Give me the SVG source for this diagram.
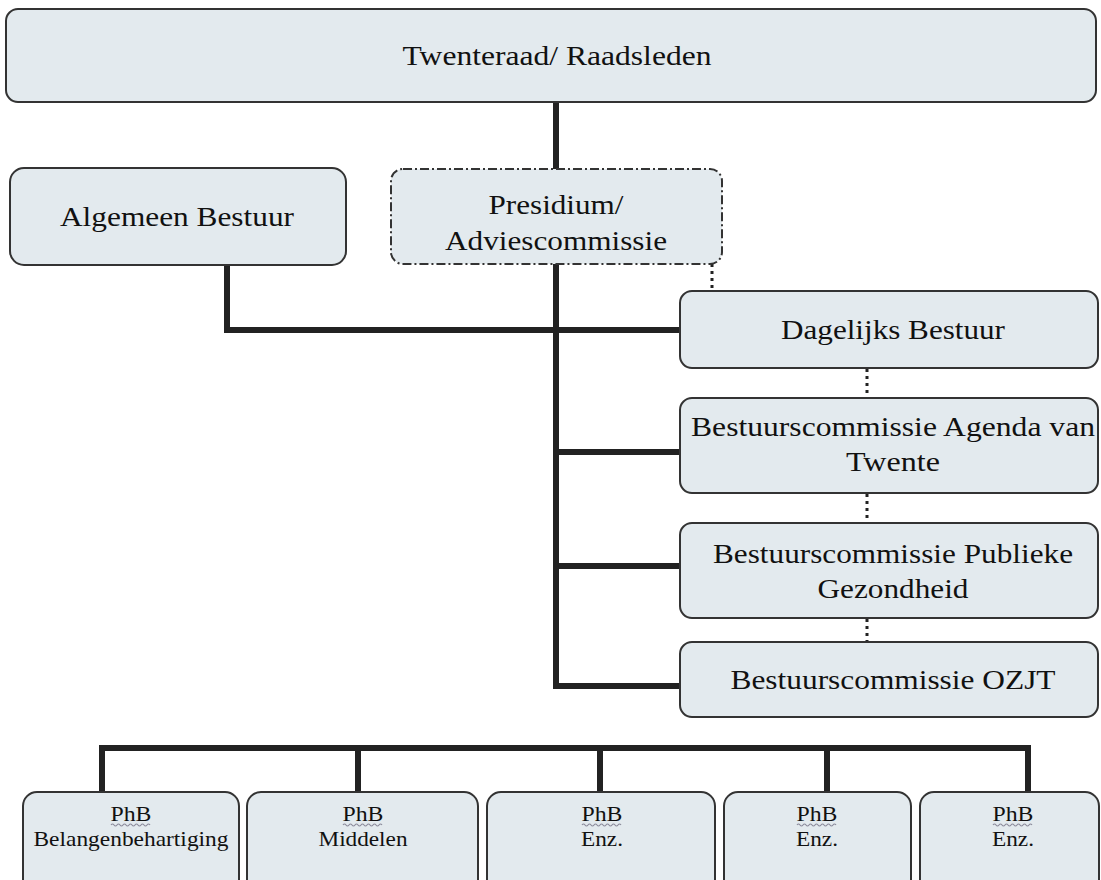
<svg xmlns="http://www.w3.org/2000/svg" width="1101" height="880" viewBox="0 0 1101 880">
<style>
.box{fill:#e3eaee;stroke:#333;stroke-width:2}
.dash{fill:#e3eaee;stroke:#333;stroke-width:2;stroke-dasharray:9 3 2 3}
.con{fill:none;stroke:#222;stroke-width:6;stroke-linejoin:miter;stroke-linecap:butt}
.dot{fill:none;stroke:#222;stroke-width:3;stroke-dasharray:3 4}
.t{font-family:"Liberation Serif","Times New Roman",serif;font-size:27px;fill:#111;text-anchor:middle}
.s{font-family:"Liberation Serif","Times New Roman",serif;font-size:22px;fill:#111;text-anchor:middle}
.sq{fill:none;stroke:#8c8c9c;stroke-width:1.2}
</style>
<rect width="1101" height="880" fill="#ffffff"/>
<g id="connectors">
<path class="con" d="M556 102 V689"/>
<path class="con" d="M227 265 V330 H680"/>
<path class="con" d="M556 452 H680"/>
<path class="con" d="M556 566 H680"/>
<path class="con" d="M556 686 H680"/>
<path class="con" d="M102 792 V748 H1028 V792"/>
<path class="con" d="M358 748 V792"/>
<path class="con" d="M600 748 V792"/>
<path class="con" d="M827 748 V792"/>
<path class="dot" d="M712 264 V291"/>
<path class="dot" d="M867 369 V398"/>
<path class="dot" d="M867 494 V523"/>
<path class="dot" d="M867 619 V642"/>
</g>
<g id="twenteraad">
<rect class="box" x="6" y="9" width="1090" height="93" rx="12"/>
<text class="t" x="557" y="65" textLength="309" lengthAdjust="spacingAndGlyphs">Twenteraad/ Raadsleden</text>
</g>
<g id="algemeen-bestuur">
<rect class="box" x="10" y="168" width="336" height="97" rx="14"/>
<text class="t" x="177" y="226" textLength="234" lengthAdjust="spacingAndGlyphs">Algemeen Bestuur</text>
</g>
<g id="presidium">
<rect class="dash" x="391" y="169" width="331" height="95" rx="12"/>
<text class="t" x="556" y="214" textLength="135" lengthAdjust="spacingAndGlyphs">Presidium/</text>
<text class="t" x="556" y="250" textLength="222" lengthAdjust="spacingAndGlyphs">Adviescommissie</text>
</g>
<g id="dagelijks-bestuur">
<rect class="box" x="680" y="291" width="418" height="77" rx="12"/>
<text class="t" x="893" y="339" textLength="224" lengthAdjust="spacingAndGlyphs">Dagelijks Bestuur</text>
</g>
<g id="bc-agenda">
<rect class="box" x="680" y="398" width="418" height="95" rx="12"/>
<text class="t" x="893" y="436" textLength="404" lengthAdjust="spacingAndGlyphs">Bestuurscommissie Agenda van</text>
<text class="t" x="893" y="471" textLength="94" lengthAdjust="spacingAndGlyphs">Twente</text>
</g>
<g id="bc-publieke">
<rect class="box" x="680" y="523" width="418" height="95" rx="12"/>
<text class="t" x="893" y="563" textLength="360" lengthAdjust="spacingAndGlyphs">Bestuurscommissie Publieke</text>
<text class="t" x="893" y="598" textLength="151" lengthAdjust="spacingAndGlyphs">Gezondheid</text>
</g>
<g id="bc-ozjt">
<rect class="box" x="680" y="642" width="418" height="75" rx="12"/>
<text class="t" x="893" y="689" textLength="325" lengthAdjust="spacingAndGlyphs">Bestuurscommissie OZJT</text>
</g>
<g id="phb-belangenbehartiging">
<rect class="box" x="23" y="792" width="216" height="120" rx="14"/>
<text class="s" x="131" y="821" textLength="41" lengthAdjust="spacingAndGlyphs">PhB</text>
<path class="sq" d="M111 825 q1.5 -2 3 0 t3 0 t3 0 t3 0 t3 0 t3 0 t3 0 t3 0 t3 0 t3 0 t3 0 t3 0 t3 0"/>
<text class="s" x="131" y="846" textLength="195" lengthAdjust="spacingAndGlyphs">Belangenbehartiging</text>
</g>
<g id="phb-middelen">
<rect class="box" x="247" y="792" width="231" height="120" rx="14"/>
<text class="s" x="363" y="821" textLength="41" lengthAdjust="spacingAndGlyphs">PhB</text>
<path class="sq" d="M343 825 q1.5 -2 3 0 t3 0 t3 0 t3 0 t3 0 t3 0 t3 0 t3 0 t3 0 t3 0 t3 0 t3 0 t3 0"/>
<text class="s" x="363" y="846" textLength="89" lengthAdjust="spacingAndGlyphs">Middelen</text>
</g>
<g id="phb-enz-1">
<rect class="box" x="487" y="792" width="228" height="120" rx="14"/>
<text class="s" x="602" y="821" textLength="41" lengthAdjust="spacingAndGlyphs">PhB</text>
<path class="sq" d="M582 825 q1.5 -2 3 0 t3 0 t3 0 t3 0 t3 0 t3 0 t3 0 t3 0 t3 0 t3 0 t3 0 t3 0 t3 0"/>
<text class="s" x="602" y="846" textLength="42" lengthAdjust="spacingAndGlyphs">Enz.</text>
</g>
<g id="phb-enz-2">
<rect class="box" x="724" y="792" width="187" height="120" rx="14"/>
<text class="s" x="817" y="821" textLength="41" lengthAdjust="spacingAndGlyphs">PhB</text>
<path class="sq" d="M797 825 q1.5 -2 3 0 t3 0 t3 0 t3 0 t3 0 t3 0 t3 0 t3 0 t3 0 t3 0 t3 0 t3 0 t3 0"/>
<text class="s" x="817" y="846" textLength="42" lengthAdjust="spacingAndGlyphs">Enz.</text>
</g>
<g id="phb-enz-3">
<rect class="box" x="920" y="792" width="179" height="120" rx="14"/>
<text class="s" x="1013" y="821" textLength="41" lengthAdjust="spacingAndGlyphs">PhB</text>
<path class="sq" d="M993 825 q1.5 -2 3 0 t3 0 t3 0 t3 0 t3 0 t3 0 t3 0 t3 0 t3 0 t3 0 t3 0 t3 0 t3 0"/>
<text class="s" x="1013" y="846" textLength="42" lengthAdjust="spacingAndGlyphs">Enz.</text>
</g>
</svg>
